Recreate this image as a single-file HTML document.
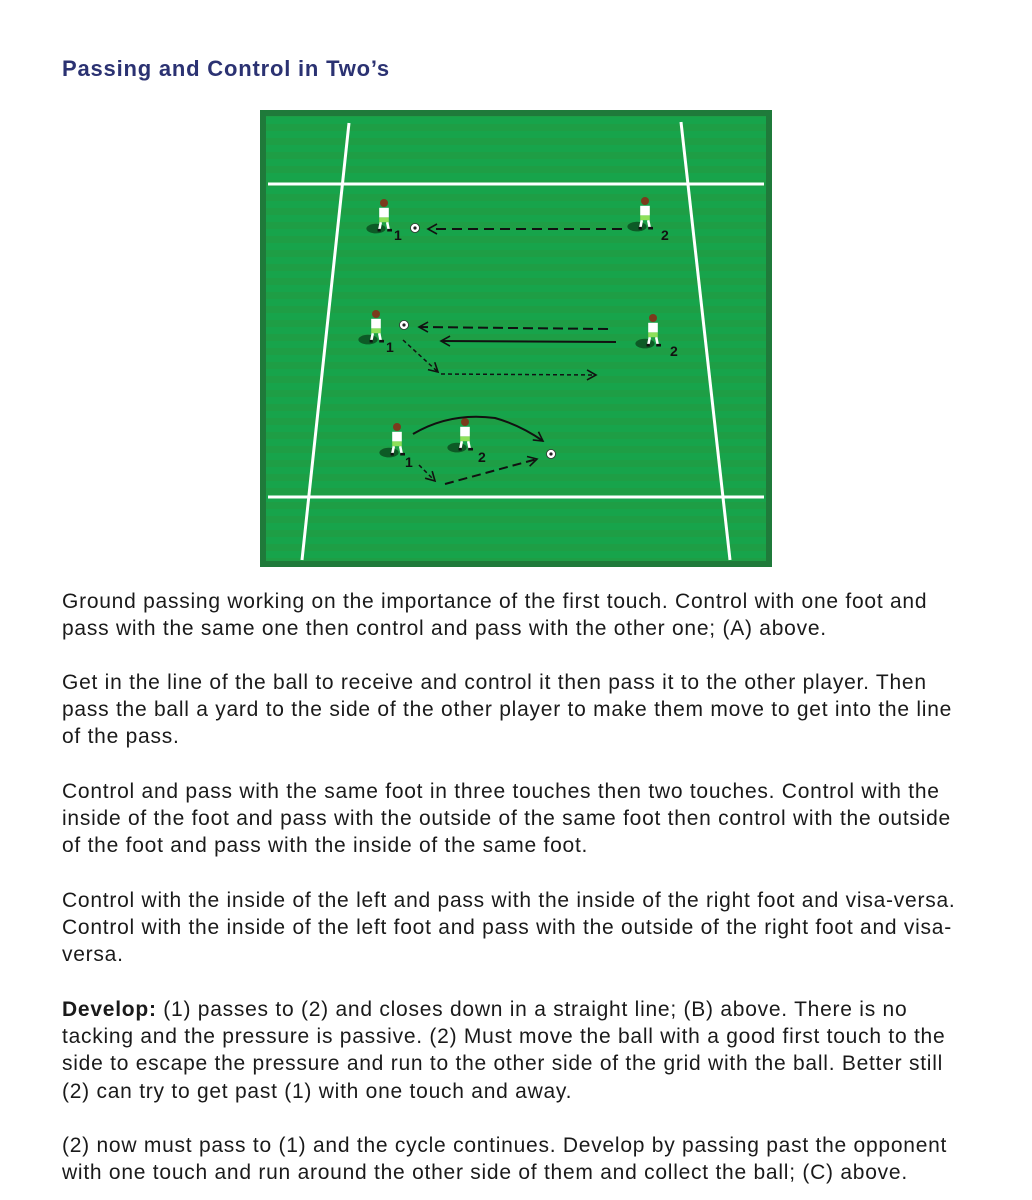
<!DOCTYPE html>
<html><head><meta charset="utf-8"><style>
body{margin:0;width:1032px;height:1200px;background:#fff;position:relative;overflow:hidden;font-family:"Liberation Sans",Arial,sans-serif;}
h1{position:absolute;left:62px;top:56px;margin:0;font-size:22px;font-weight:bold;color:#2b3272;letter-spacing:0.8px;}
.t{position:absolute;left:62px;width:900px;font-size:21px;letter-spacing:0.75px;line-height:27.2px;color:#1a1a1a;}
svg{position:absolute;left:0;top:0;}
</style></head><body>
<h1>Passing and Control in Two’s</h1>
<svg width="1032" height="600">
<defs>
<pattern id="st" x="0" y="110" width="20" height="14" patternUnits="userSpaceOnUse">
<rect width="20" height="7" fill="#1e9e45"/><rect y="7" width="20" height="7" fill="#17a44b"/>
</pattern>
<marker id="ah" markerWidth="12" markerHeight="12" refX="10" refY="6" orient="auto" markerUnits="userSpaceOnUse"><path d="M1,1 L10,6 L1,11" fill="none" stroke="#111" stroke-width="1.6"/></marker>
<g id="p0">
<ellipse cx="-5" cy="6" rx="6" ry="3" fill="#0d5a26"/>
<circle cx="0" cy="-10" r="2.5" fill="#7a3b1d"/>
<rect x="-3" y="-7" width="6" height="6" fill="#fff"/>
<rect x="-3" y="-1" width="6" height="3" fill="#8ee05a"/>
<path d="M-2,2 L-3,7 M2,2 L3,7" stroke="#fff" stroke-width="1.6"/>
<path d="M-4,7 L-2,7 M2,7 L5,7" stroke="#111" stroke-width="1.6"/>
</g>
<g id="p"><use href="#p0" transform="scale(1.6)"/></g>
<g id="b"><circle r="4.5" fill="#fff" stroke="#333" stroke-width="0.8"/><circle r="1.6" fill="#222"/></g>
</defs>
<rect x="260" y="110" width="512" height="457" fill="#1f7a3a"/>
<rect x="266" y="116" width="500" height="445" fill="url(#st)"/>
<g stroke="#fff" stroke-width="3">
<line x1="268" y1="184" x2="764" y2="184"/>
<line x1="268" y1="497" x2="764" y2="497"/>
<line x1="349" y1="123" x2="302" y2="560"/>
<line x1="681" y1="122" x2="730" y2="560"/>
</g>
<g font-family="Liberation Sans,sans-serif" font-weight="bold" font-size="14" fill="#111">
<use href="#p" x="384" y="219"/><text x="394" y="240">1</text>
<use href="#b" x="415" y="228"/>
<use href="#p" x="645" y="217"/><text x="661" y="240">2</text>
<use href="#p" x="376" y="330"/><text x="386" y="352">1</text>
<use href="#b" x="404" y="325"/>
<use href="#p" x="653" y="334"/><text x="670" y="356">2</text>
<use href="#p" x="397" y="443"/><text x="405" y="467">1</text>
<use href="#p" x="465" y="438"/><text x="478" y="462">2</text>
<use href="#b" x="551" y="454"/>
</g>
<g fill="none" stroke="#111" stroke-width="2">
<line x1="622" y1="229" x2="428" y2="229" stroke-dasharray="10,6" marker-end="url(#ah)"/>
<line x1="608" y1="329" x2="419" y2="327" stroke-dasharray="10,5" marker-end="url(#ah)"/>
<line x1="616" y1="342" x2="441" y2="341" marker-end="url(#ah)"/>
<line x1="403" y1="340" x2="438" y2="372" stroke-width="1.5" stroke-dasharray="4,3" marker-end="url(#ah)"/>
<line x1="441" y1="374" x2="596" y2="375" stroke-width="1.5" stroke-dasharray="4,3" marker-end="url(#ah)"/>
<path d="M413,434 Q450,412 495,418 Q520,425 543,441" marker-end="url(#ah)"/>
<line x1="419" y1="465" x2="435" y2="481" stroke-width="1.5" stroke-dasharray="4,3" marker-end="url(#ah)"/>
<line x1="445" y1="484" x2="537" y2="459" stroke-dasharray="9,5" marker-end="url(#ah)"/>
</g>
</svg>
<div class="t" style="top:588px">Ground passing working on the importance of the first touch. Control with one foot and pass with the same one then control and pass with the other one; (A) above.</div>
<div class="t" style="top:669px">Get in the line of the ball to receive and control it then pass it to the other player. Then pass the ball a yard to the side of the other player to make them move to get into the line of the pass.</div>
<div class="t" style="top:778px">Control and pass with the same foot in three touches then two touches. Control with the inside of the foot and pass with the outside of the same foot then control with the outside of the foot and pass with the inside of the same foot.</div>
<div class="t" style="top:887px">Control with the inside of the left and pass with the inside of the right foot and visa-versa. Control with the inside of the left foot and pass with the outside of the right foot and visa-versa.</div>
<div class="t" style="top:996px"><b>Develop:</b> (1) passes to (2) and closes down in a straight line; (B) above. There is no tacking and the pressure is passive. (2) Must move the ball with a good first touch to the side to escape the pressure and run to the other side of the grid with the ball. Better still (2) can try to get past (1) with one touch and away.</div>
<div class="t" style="top:1132px">(2) now must pass to (1) and the cycle continues. Develop by passing past the opponent with one touch and run around the other side of them and collect the ball; (C) above.</div>
</body></html>
